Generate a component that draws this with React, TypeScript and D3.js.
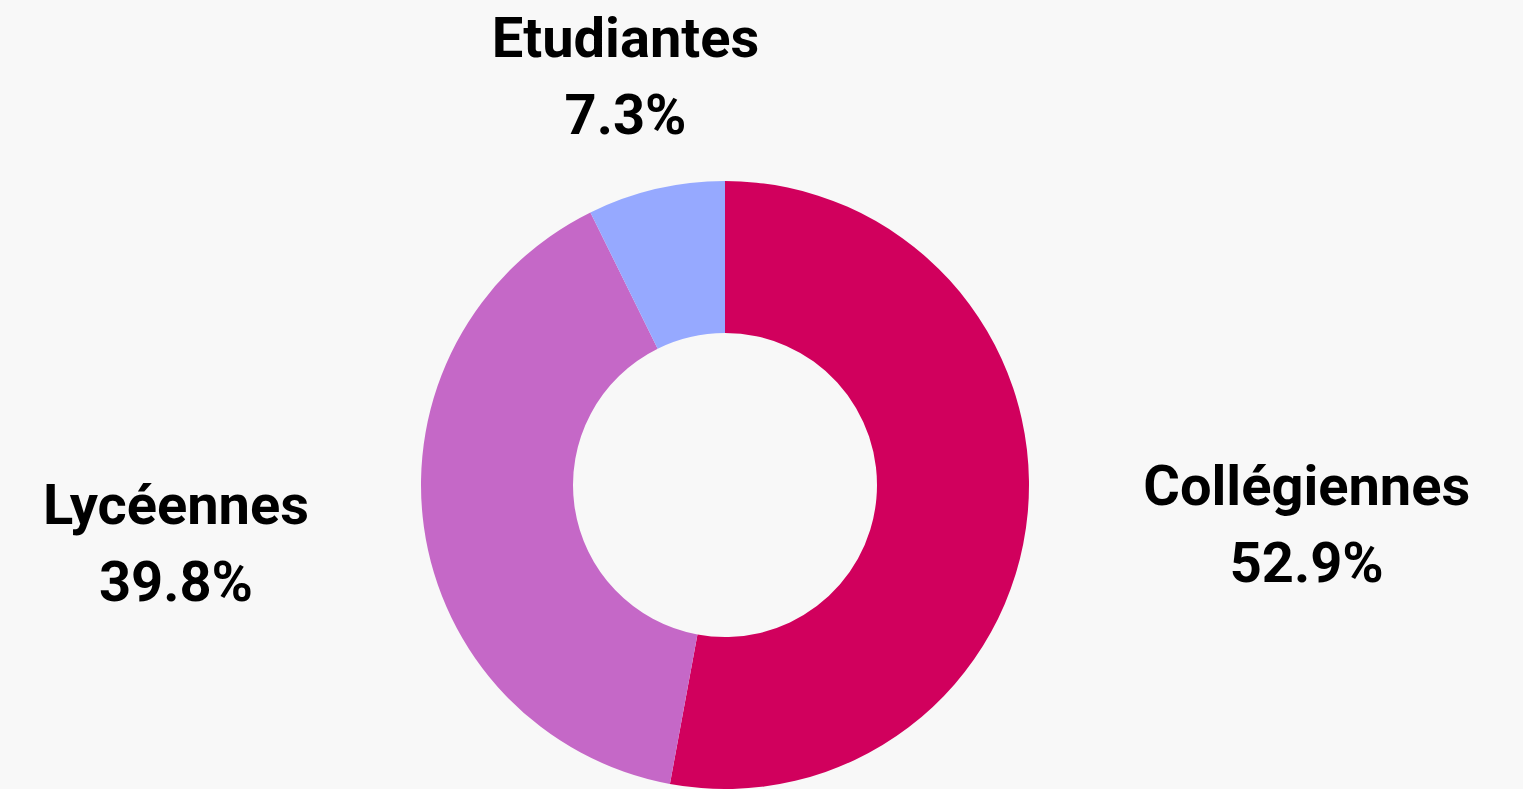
import React from "react";
import * as d3 from "d3";

const categories = ["Collégiennes", "Lycéennes", "Etudiantes"];
const values = [52.9, 39.8, 7.3];
const colors = ["#d1005d", "#c568c7", "#96a9ff"];

const W = 1523;
const H = 789;
const cx = 725;
const cy = 485;
const outerR = 304;
const innerR = 152;
const labelR = 420;
const fontSize = 56;
const fontWeight = 700;
const lineGap = 77;

function measure(text: string): number {
  if (typeof document === "undefined") return text.length * fontSize * 0.55;
  const c = document.createElement("canvas");
  const ctx = c.getContext("2d");
  if (!ctx) return text.length * fontSize * 0.55;
  ctx.font = `${fontWeight} ${fontSize}px Roboto`;
  return ctx.measureText(text).width;
}

export default function App() {
  const pie = d3.pie<number>().sort(null).value((d) => d);
  const arcs = pie(values);
  const arcGen = d3.arc<d3.PieArcDatum<number>>().innerRadius(innerR).outerRadius(outerR);

  return (
    <div style={{ position: "fixed", left: 0, top: 0, width: W, height: H, background: "#f8f8f8" }}>
      <svg width={W} height={H} style={{ display: "block" }}>
        <rect width={W} height={H} fill="#f8f8f8" />
        <g transform={`translate(${cx},${cy})`}>
          {arcs.map((a, i) => (
            <path key={i} d={arcGen(a) || ""} fill={colors[i]} />
          ))}
          {arcs.map((a, i) => {
            const mid = (a.startAngle + a.endAngle) / 2;
            const sx = Math.sin(mid);
            const sy = -Math.cos(mid);
            const x = labelR * sx;
            const y = labelR * sy;
            const l1 = categories[i];
            const l2 = values[i].toFixed(1) + "%";
            const bw = Math.max(measure(l1), measure(l2));
            const centerX = Math.abs(sx) < 0.3 ? x - 4 : sx > 0 ? x + bw / 2 : x - bw / 2;
            const capH = fontSize * 0.711;
            const blockTop = y - (lineGap + capH) / 2;
            const b1 = blockTop + capH;
            const b2 = b1 + lineGap;
            return (
              <g key={"l" + i} fontFamily="Roboto, sans-serif" fontWeight={fontWeight} fontSize={fontSize} fill="#000" textAnchor="middle">
                <text x={centerX} y={b1}>{l1}</text>
                <text x={centerX} y={b2}>{l2}</text>
              </g>
            );
          })}
        </g>
      </svg>
    </div>
  );
}
